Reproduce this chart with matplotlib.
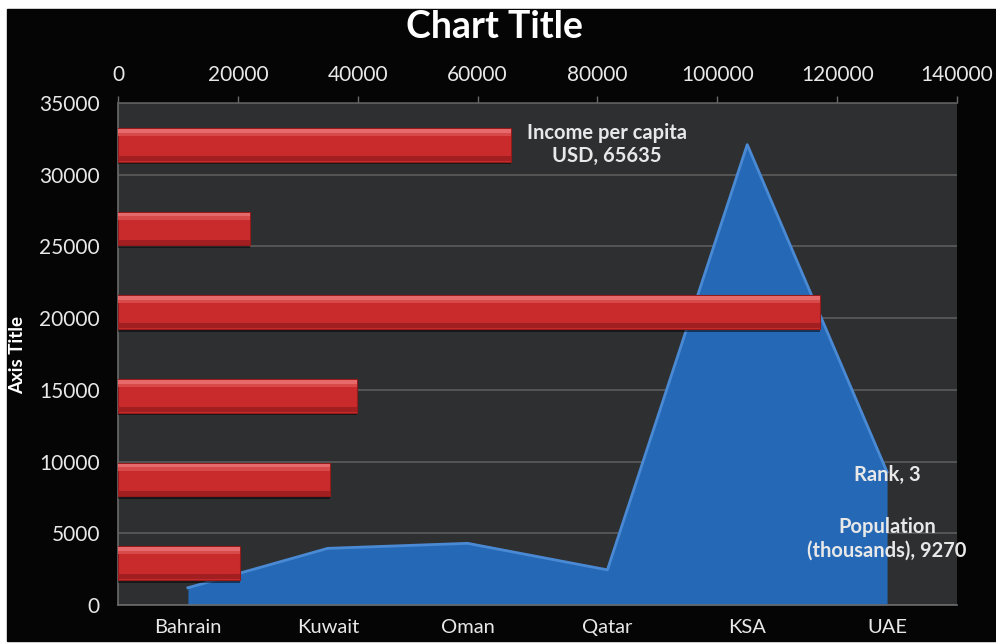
import matplotlib.pyplot as plt
from matplotlib.patches import Rectangle

plt.rcParams['font.family'] = ['Lato', 'DejaVu Sans']

countries = ['Bahrain', 'Kuwait', 'Oman', 'Qatar', 'KSA', 'UAE']
population = [1200, 3950, 4300, 2450, 32100, 9270]
income = [20300, 35400, 39900, 117100, 22000, 65635]
rank_uae = 3

pop_ticks = [0, 5000, 10000, 15000, 20000, 25000, 30000, 35000]
inc_ticks = [0, 20000, 40000, 60000, 80000, 100000, 120000, 140000]

W, H = 996, 644
fig = plt.figure(figsize=(W / 100, H / 100), dpi=100, facecolor='white')
# black chart area inside a thin white margin
fig.patches.append(Rectangle((7 / W, 1 - 641 / H), 1 - 7 / W, (641 - 9) / H,
                             transform=fig.transFigure, color='#050505', zorder=-10))

rect = [118 / W, 1 - 605 / H, (957 - 118) / W, (605 - 103) / H]
grid_col = '#5c5c5c'
txt_col = '#e8e8e8'

# population area (bottom category axis, left value axis)
ax = fig.add_axes(rect)
ax.set_facecolor('#2e2f31')
x = range(len(countries))
ax.fill_between(x, population, 0, color='#2569b6', lw=0, zorder=2)
ax.plot(x, population, color='#4a8ad4', lw=2, zorder=3)
ax.set_xlim(-0.5, len(countries) - 0.5)
ax.set_ylim(0, 35000)
ax.set_yticks(pop_ticks)
ax.set_xticks(list(x))
ax.set_xticklabels(countries)
ax.grid(axis='y', color=grid_col, lw=1.2, zorder=1)
ax.set_axisbelow(True)
ax.tick_params(axis='x', length=0, pad=10, colors=txt_col, labelsize=14.5)
ax.tick_params(axis='y', length=0, pad=13, colors=txt_col, labelsize=15)
for s in ['top', 'right']:
    ax.spines[s].set_visible(False)
for s in ['left', 'bottom']:
    ax.spines[s].set_color('#6a6a6a')
    ax.spines[s].set_linewidth(1.2)

ax.annotate(f'Rank, {rank_uae}', xy=(5, population[5]), xytext=(0, -2),
            textcoords='offset points', ha='center', va='center',
            color=txt_col, fontsize=14.5, fontweight='bold', zorder=6)
ax.annotate(f'Population\n(thousands), {population[5]}', xy=(5, population[5]),
            xytext=(0, -48), textcoords='offset points', ha='center', va='center',
            color=txt_col, fontsize=14.5, fontweight='bold', linespacing=1.2, zorder=6)

# income bars (top value axis, hidden category axis)
ax2 = fig.add_axes(rect)
ax2.patch.set_visible(False)
y = list(range(len(countries)))
# drop shadow, body, soft highlight and darker lower edge
ax2.barh([v - 0.035 for v in y], income, height=0.4, color='black', alpha=0.5, zorder=2)
ax2.barh(y, income, height=0.4, color='#c92b2c', edgecolor='#951a1a', lw=0.8, zorder=3)
ax2.barh([v + 0.165 for v in y], income, height=0.05, color='#e66a6b', lw=0, zorder=4)
ax2.barh([v + 0.125 for v in y], income, height=0.04, color='#d8494a', lw=0, zorder=4)
ax2.barh([v - 0.165 for v in y], income, height=0.06, color='#a11f20', lw=0, zorder=4)
ax2.set_xlim(0, 140000)
ax2.set_ylim(-0.5, len(countries) - 0.5)
ax2.set_yticks([])
ax2.xaxis.tick_top()
ax2.set_xticks(inc_ticks)
ax2.tick_params(axis='x', length=5, width=1, color='#6a6a6a', pad=8,
                labelcolor=txt_col, labelsize=15)
for s in ['left', 'right', 'bottom']:
    ax2.spines[s].set_visible(False)
ax2.spines['top'].set_color(grid_col)
ax2.spines['top'].set_linewidth(1.2)

ax2.annotate(f'Income per capita\nUSD, {income[5]}', xy=(income[5], 5), xytext=(11, 0),
             textcoords='offset points', ha='left', va='center', multialignment='center',
             color=txt_col, fontsize=14.5, fontweight='bold', linespacing=1.2, zorder=6)

fig.text(494 / W, 1 - 27 / H, 'Chart Title', ha='center', va='center',
         color='white', fontsize=27, fontweight='bold')
fig.text(18 / W, 1 - 355 / H, 'Axis Title', ha='center', va='center', rotation=90,
         color='white', fontsize=13.5, fontweight='bold')

fig.savefig('out.png', dpi=100, facecolor=fig.get_facecolor())
